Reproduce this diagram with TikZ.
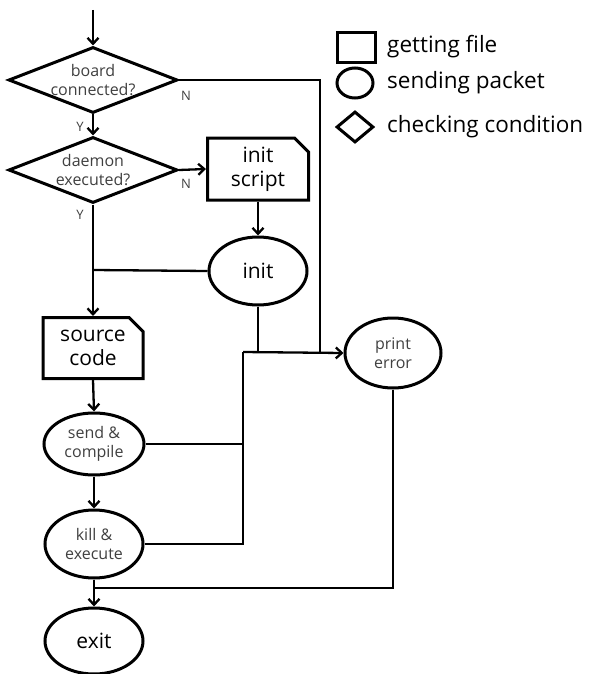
\documentclass[tikz,border=0pt]{standalone}
\usepackage{fontspec}
\setmainfont{Open Sans}
\usetikzlibrary{shapes.geometric,shapes.misc,arrows.meta}
\begin{document}
\begin{tikzpicture}[x=1pt,y=-1pt,
  shp/.style={draw=black,line width=3pt,inner sep=0pt,align=center},
  dia/.style={shp,diamond,minimum width=169pt,minimum height=66pt,aspect=2.56},
  fil/.style={shp,chamfered rectangle,chamfered rectangle corners=north east,chamfered rectangle xsep=7pt,chamfered rectangle ysep=7pt},
  ell/.style={shp,ellipse},
  small/.style={font=\fontsize{16}{19.5}\selectfont,text=black!75},
  big/.style={font=\fontsize{21}{24}\selectfont},
  lbl/.style={font=\fontsize{13}{15}\selectfont,text=black!75},
  leg/.style={font=\fontsize{22.5}{26}\selectfont,anchor=west,inner sep=0pt},
  conn/.style={draw=black,line width=2.3pt},
  arr/.style={conn,-{Straight Barb[length=6pt,width=11pt,line width=2.3pt]}}
]
\useasboundingbox (0,0) rectangle (592,674);
% nodes
\node[dia,small] (d1) at (93,80) {board\\connected?};
\node[dia,small] (d2) at (93,170) {daemon\\executed?};
\node[fil,big,minimum width=101pt,minimum height=62pt] (is) at (258,169) {init\\script};
\node[ell,big,minimum width=98pt,minimum height=68pt] (in) at (258,271) {init};
\node[fil,big,minimum width=100pt,minimum height=61pt] (sc) at (93,348) {source\\code};
\node[ell,small,minimum width=100pt,minimum height=62pt] (sa) at (94,444) {send \&\\compile};
\node[ell,small,minimum width=98pt,minimum height=68pt] (ke) at (94,544) {kill \&\\execute};
\node[ell,big,minimum width=98pt,minimum height=66pt] (ex) at (94,641) {exit};
\node[ell,small,minimum width=96pt,minimum height=70pt] (pe) at (393,353) {print\\error};
% labels
\node[lbl] (n1) at (186,96) {N};
\node[lbl] (n2) at (186,184) {N};
\node[lbl] (y1) at (80,127) {Y};
\node[lbl] (y2) at (80,215) {Y};
% coordinates
\coordinate (top) at (93,10);
\coordinate (ja) at (320,352);
\coordinate (jb) at (258,352);
\coordinate (jc) at (243,352);
\coordinate (jd) at (93,270);
\coordinate (je) at (94,588);
% connectors
\draw[arr] (top) -- (d1.north);
\draw[arr] (d1.south) -- (d2.north);
\draw[conn] (d1.east) -| (ja);
\draw[arr] (d2.east) -- (is.west);
\draw[arr] (is.south) -- (in.north);
\draw[conn] (in.west) -- (jd);
\draw[arr] (d2.south) -- (sc.north);
\draw[conn] (in.south) -- (jb);
\draw[arr] (sc.south) -- (sa.north);
\draw[conn] (sa.east) -| (jc);
\draw[conn] (ke.east) -| (jc);
\draw[arr] (jc) -- (pe.west);
\draw[arr] (sa.south) -- (ke.north);
\draw[arr] (ke.south) -- (ex.north);
\draw[conn] (pe.south) |- (je);
% legend
\node[fil,minimum width=38pt,minimum height=30pt,chamfered rectangle xsep=5pt,chamfered rectangle ysep=5pt] (lf) at (356,48) {};
\node[ell,minimum width=36pt,minimum height=30pt] (lp) at (355,83) {};
\node[shp,diamond,minimum width=37pt,minimum height=31pt,aspect=1.2] (lc) at (355,127) {};
\node[leg] (tf) at (387,47) {getting file};
\node[leg] (tp) at (387,83) {sending packet};
\node[leg] (tc) at (387,127) {checking condition};
\end{tikzpicture}
\end{document}
